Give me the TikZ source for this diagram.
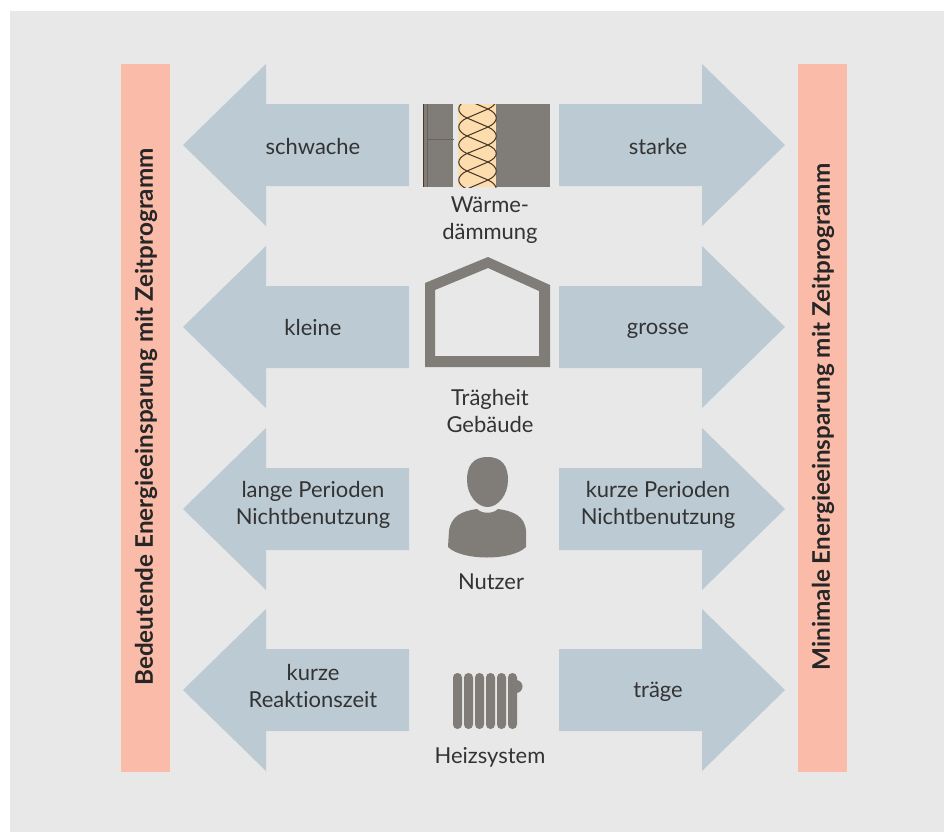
\documentclass[tikz,border=0pt]{standalone}
\usepackage{fontspec}
\setmainfont{Lato}[Ligatures=NoCommon]
\definecolor{panelgray}{HTML}{E8E8E8}
\definecolor{arrowblue}{HTML}{BBCAD3}
\definecolor{barrose}{HTML}{FBBBA9}
\definecolor{icongray}{HTML}{807C77}
\definecolor{woolyellow}{HTML}{FDDDAE}
\definecolor{wooldark}{HTML}{4A3A2C}
\tikzset{arrowshape/.style={fill=arrowblue},
         barshape/.style={fill=barrose},
         iconshape/.style={fill=icongray},
         woolline/.style={draw=wooldark, line width=0.6pt},
         lbl/.style={align=center, font=\fontsize{12.5pt}{15pt}\selectfont, text=black!80},
         barlbl/.style={rotate=90, font=\fontsize{13.8pt}{15pt}\selectfont\bfseries, text=black!85}}
\begin{document}
\begin{tikzpicture}[x=0.02cm,y=-0.02cm]
    \useasboundingbox (0,0) rectangle (944,832);
    \fill[white] (0,0) rectangle (944,832);
    \fill[panelgray] (10,11) rectangle (944,832);

    % side bars
    \fill[barshape] (121,64) rectangle (170,772);
    \fill[barshape] (798,64) rectangle (847,772);
    \node[barlbl](leftbar)at(146,417){Bedeutende Energieeinsparung mit Zeitprogramm};
    \node[barlbl](rightbar)at(823,417){Minimale Energieeinsparung mit Zeitprogramm};

    % arrows
    \foreach \row in {145,327,509,690}{
        \fill[arrowshape] (183,\row)--(266,\row-81)--(266,\row-41)--(409,\row-41)--(409,\row+41)--(266,\row+41)--(266,\row+81)--cycle;
        \fill[arrowshape] (785,\row)--(702,\row-81)--(702,\row-41)--(559,\row-41)--(559,\row+41)--(702,\row+41)--(702,\row+81)--cycle;
    }

    % arrow texts
    \node[lbl](weak)at(313,146){schwache};
    \node[lbl](strong)at(658,146){starke};
    \node[lbl](small)at(313,327){kleine};
    \node[lbl](large)at(658,331){grosse};
    \node[lbl](longp)at(313,505){lange Perioden\\Nichtbenutzung};
    \node[lbl](shortp)at(658,505){kurze Perioden\\Nichtbenutzung};
    \node[lbl](react)at(313,686){kurze\\Reaktionszeit};
    \node[lbl](slow)at(658,692){träge};

    % centre texts
    \node[lbl](insul)at(490,220){Wärme-\\dämmung};
    \node[lbl](mass)at(490,411){Trägheit\\Gebäude};
    \node[lbl](user)at(491,582){Nutzer};
    \node[lbl](heat)at(490,757){Heizsystem};

    % wall
    \fill[iconshape] (423,104) rectangle (453,187);
    \fill[iconshape] (496,104) rectangle (550,187);
    \fill[woolyellow] (458,104) rectangle (496,187);
    \draw[wooldark,line width=0.7pt] (423.5,104)--(423.5,187);
    \draw[wooldark!80,line width=0.5pt] (427.5,104)--(427.5,187);
    \draw[wooldark!80,line width=0.5pt] (427.5,139.5)--(454,139.5);
    \begin{scope}
        \clip (457,104) rectangle (497,187);
        \draw[woolline] (488,91)--(467,100)--(488,109)--(467,118)--(488,127)--(467,136)--(488,145)--(467,153.5)--(488,162)--(467,171)--(488,180)--(467,189);
        \foreach \a/\b in {100/118,118/136,136/153.5,153.5/171,171/189}{
            \draw[woolline] (467,\a) .. controls (456,\a+5) and (456,\b-5) .. (467,\b);
        }
        \foreach \a/\b in {91/109,109/127,127/145,145/162,162/180,180/198}{
            \draw[woolline] (488,\a) .. controls (499,\a+5) and (499,\b-5) .. (488,\b);
        }
    \end{scope}

    % house
    \fill[iconshape,even odd rule] (425,283)--(488,257)--(550,285)--(550,367)--(425,367)--cycle
        (435,290)--(488,268)--(539,291)--(539,356)--(435,356)--cycle;

    % person
    \fill[iconshape] (487.5,457) .. controls (503,457) and (508,467) .. (508,480) .. controls (508,495) and (498,507) .. (487.5,507) .. controls (477,507) and (467,495) .. (467,480) .. controls (467,467) and (472,457) .. (487.5,457)--cycle;
    \fill[iconshape] (477,509) .. controls (482,514) and (493,514) .. (498,509) .. controls (513,511) and (525,516) .. (526,531)--(526,547) .. controls (512,561) and (462,561) .. (448,547)--(449,531) .. controls (451,516) and (462,511) .. (477,509)--cycle;

    % radiator
    \foreach \col in {453,464,475,486,497,508}{
        \fill[iconshape,rounded corners=2.5pt] (\col,673) rectangle (\col+9,729);
    }
    \fill[iconshape] (516,686.5) circle (6.5);
\end{tikzpicture}
\end{document}
